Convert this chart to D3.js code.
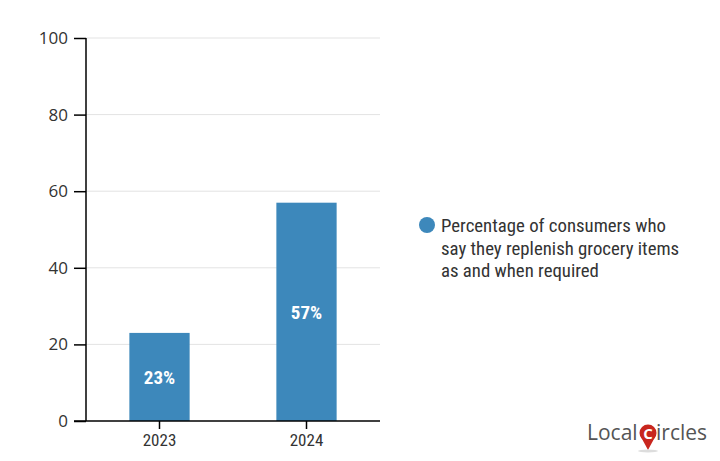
<!DOCTYPE html>
<html><head><meta charset="utf-8">
<script src="https://cdn.jsdelivr.net/npm/d3@7"></script>
<style>body{margin:0;background:#fff}</style>
</head><body>
<svg id="c" width="720" height="461"></svg>
<script>
const categories = ["2023", "2024"];
const values = [23, 57];
const yTicks = [0, 20, 40, 60, 80, 100];
const seriesName = ["Percentage of consumers who", "say they replenish grocery items", "as and when required"];

const svg = d3.select("#c");
const x = d3.scaleBand().domain(categories).range([86, 380]).paddingInner(0.59).paddingOuter(0.295);
const y = d3.scaleLinear().domain([0, 100]).range([421, 38]);
const blue = "#3d88bb";
const cond = "'Roboto Condensed','Liberation Sans Narrow','Roboto',sans-serif";

svg.append("g").selectAll("line").data(yTicks.slice(1)).join("line")
  .attr("x1", 86).attr("x2", 380).attr("y1", d => y(d)).attr("y2", d => y(d))
  .attr("stroke", "#e3e3e3").attr("stroke-width", 1);

svg.append("g").selectAll("rect").data(values).join("rect")
  .attr("x", (d, i) => x(categories[i])).attr("width", x.bandwidth())
  .attr("y", d => y(d)).attr("height", d => y(0) - y(d)).attr("fill", blue);

svg.append("g").selectAll("text").data(values).join("text")
  .attr("x", (d, i) => x(categories[i]) + x.bandwidth() / 2)
  .attr("y", d => (y(d) + y(0)) / 2 + 7)
  .attr("text-anchor", "middle").attr("fill", "#fff")
  .style("font-family", cond).style("font-weight", "bold").style("font-size", "19px")
  .text(d => d + "%");

const ya = svg.append("g").attr("transform", "translate(86,0)")
  .call(d3.axisLeft(y).tickValues(yTicks).tickSize(12).tickPadding(6));
ya.select(".domain").attr("stroke", "#000").attr("stroke-width", 1.5).attr("d", `M0,${y(100)}V${y(0)}`);
ya.selectAll(".tick line").attr("stroke", "#000").attr("stroke-width", 1.5);
ya.selectAll("text").attr("fill", "#333").style("font-family", "'Open Sans',sans-serif").style("font-size", "17px");

const xa = svg.append("g").attr("transform", `translate(0,${y(0)})`)
  .call(d3.axisBottom(x).tickSize(8).tickPadding(5));
xa.select(".domain").attr("stroke", "#000").attr("stroke-width", 1.5).attr("d", "M74,0H380");
xa.selectAll(".tick line").attr("stroke", "#000").attr("stroke-width", 1.5);
xa.selectAll("text").attr("fill", "#333").style("font-family", cond).style("font-size", "17px");

svg.append("circle").attr("cx", 427).attr("cy", 225).attr("r", 8).attr("fill", blue);
svg.append("g").selectAll("text").data(seriesName).join("text")
  .attr("x", 441).attr("y", (d, i) => 232 + i * 22.5)
  .attr("fill", "#333").style("font-family", cond).style("font-size", "18.8px")
  .text(d => d);

const logo = svg.append("g");
logo.append("text").attr("x", 587).attr("y", 440).attr("fill", "#555")
  .style("font-family", "'Open Sans',sans-serif").style("font-size", "21px").text("Local");
logo.append("circle").attr("cx", 648).attr("cy", 433).attr("r", 8.5).attr("fill", "#c8261e");
logo.append("path").attr("d", "M641,437 L648,450 L655,437 Z").attr("fill", "#c8261e");
logo.append("text").attr("x", 648).attr("y", 439).attr("text-anchor", "middle").attr("fill", "#fff")
  .style("font-family", "'Open Sans',sans-serif").style("font-weight", "bold").style("font-size", "15px").text("C");
logo.append("ellipse").attr("cx", 648).attr("cy", 451).attr("rx", 10).attr("ry", 1.5).attr("fill", "#ddd");
logo.append("text").attr("x", 656).attr("y", 440).attr("fill", "#555")
  .style("font-family", "'Open Sans',sans-serif").style("font-size", "21px").text("ircles");
</script>
</body></html>
